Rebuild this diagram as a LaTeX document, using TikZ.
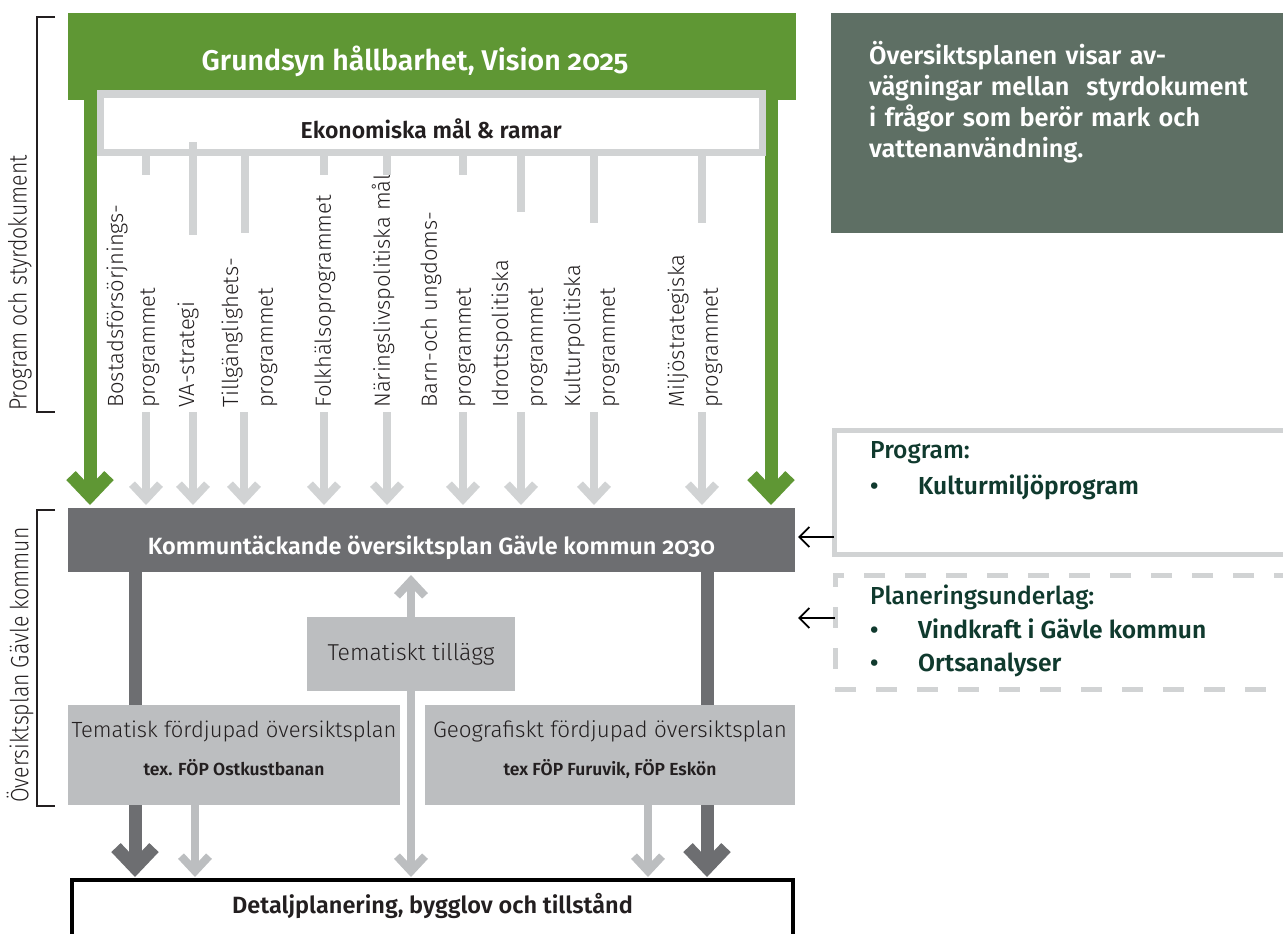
\documentclass[tikz,border=0pt]{standalone}
\usepackage{fontspec}
\setmainfont{Fira Sans}[Numbers=OldStyle]
\newfontfamily\lightfont{Fira Sans Light}[Numbers=OldStyle]
\newfontfamily\medfont{Fira Sans Medium}[Numbers=OldStyle]
\newfontfamily\semifont{Fira Sans SemiBold}[Numbers=OldStyle]
\newfontfamily\condfont{Fira Sans Light}[FakeStretch=0.85]
\usepackage{xcolor}
\usepackage{tikz}
\usetikzlibrary{positioning}
\usetikzlibrary{arrows.meta}
\pgfdeclarelayer{edgelayer}
\pgfsetlayers{edgelayer,main}

\definecolor{ogreen}{RGB}{95,151,52}
\definecolor{stubgrey}{RGB}{209,211,212}
\definecolor{darkgrey}{RGB}{109,110,113}
\definecolor{boxgrey}{RGB}{188,190,192}
\definecolor{slate}{RGB}{94,111,100}
\definecolor{deepgreen}{RGB}{16,58,46}
\definecolor{inkblack}{RGB}{35,31,32}

\tikzset{
  block/.style={inner sep=0pt, outer sep=0pt, anchor=north west},
  greenflow/.style={draw=ogreen, line width=13pt, -{Straight Barb[length=20pt,width=38pt]}, shorten >=3pt},
  darkflow/.style={draw=darkgrey, line width=13pt, -{Straight Barb[length=20pt,width=38pt]}, shorten >=3pt},
  greyflow/.style={draw=stubgrey, line width=8pt, -{Straight Barb[length=15pt,width=28pt]}, shorten >=3pt},
  paleflow/.style={draw=boxgrey, line width=8pt, -{Straight Barb[length=15pt,width=28pt]}, shorten >=3pt},
  stub/.style={draw=stubgrey, line width=8pt},
  pointer/.style={draw=black, line width=1.8pt, -{Straight Barb[length=10pt,width=20pt]}},
  bracket/.style={draw=inkblack, line width=2pt},
  progtext/.style={rotate=90, anchor=west, inner sep=0pt, text=inkblack, font=\lightfont\fontsize{22}{25}\selectfont},
  sidetext/.style={rotate=90, inner sep=0pt, text=inkblack, font=\condfont\fontsize{25}{28}\selectfont},
  listtext/.style={anchor=north west, inner sep=0pt, align=left, text=deepgreen}
}

\begin{document}
\begin{tikzpicture}[x=1pt, y=-1pt]
  \useasboundingbox (0,0) rectangle (1283,934);
  \clip (0,0) rectangle (1283,934);

  % Top: vision and economic frame
  \node[block, fill=ogreen, minimum width=728, minimum height=87] (vision) at (68,13) {};
  \node[text=white, font=\semifont\fontsize{28.5}{32}\selectfont] (visiontxt) at (415,61) {Grundsyn hållbarhet, Vision 2025};
  \node[block, draw=stubgrey, line width=7pt, fill=white, minimum width=661.5, minimum height=58,
        text height=31pt, text depth=0pt,
        text=inkblack, font=\semifont\fontsize{23}{26}\selectfont] (ekonomi) at (100.5,94) {Ekonomiska mål \& ramar};

  % Program and policy documents
  \foreach \x/\txt in {117/Bostadsförsörjnings-, 150/programmet, 188/VA-strategi, 232/Tillgänglighets-,
                       268/programmet, 325/Folkhälsoprogrammet, 383/Näringslivspolitiska mål,
                       431/Barn-och ungdoms-, 466/programmet, 502/Idrottspolitiska, 538/programmet,
                       574/Kulturpolitiska, 610/programmet, 678/Miljöstrategiska, 713/programmet}
    \node[progtext] (prog\x) at (\x,408) {\txt};

  % Comprehensive plan
  \node[block, fill=darkgrey, minimum width=727, minimum height=64, text=white,
        text height=28pt, text depth=0pt,
        font=\semifont\fontsize{23.5}{26}\selectfont] (kommun) at (68,508) {Kommuntäckande översiktsplan Gävle kommun 2030};
  \node[block, fill=boxgrey, minimum width=208, minimum height=74, text=inkblack,
        font=\lightfont\fontsize{23}{26}\selectfont] (tillagg) at (307,617) {Tematiskt tillägg};
  \node[block, fill=boxgrey, minimum width=332, minimum height=100, text=inkblack, align=center,
        font=\lightfont\fontsize{22}{24}\selectfont] (tematisk) at (68,705)
        {Tematisk fördjupad översiktsplan\\[14pt]{\semifont\fontsize{17.5}{20}\selectfont tex. FÖP Ostkustbanan}\rule[-14pt]{0pt}{1pt}};
  \node[block, fill=boxgrey, minimum width=370, minimum height=100, text=inkblack, align=center,
        font=\lightfont\fontsize{22.4}{24}\selectfont] (geografiskt) at (425,705)
        {Geografiskt fördjupad översiktsplan\\[14pt]{\semifont\fontsize{17.5}{20}\selectfont tex FÖP Furuvik, FÖP Eskön}\rule[-14pt]{0pt}{1pt}};

  % Detailed planning (runs off the bottom edge)
  \node[block, draw=black, line width=4pt, fill=white, minimum width=721, minimum height=80,
        text height=18pt, text depth=32pt, text=inkblack,
        font=\semifont\fontsize{23.5}{26}\selectfont] (detalj) at (72,880) {Detaljplanering, bygglov och tillstånd};

  % Right column
  \node[block, fill=slate, minimum width=460, minimum height=220] (note) at (831,13) {};
  \node[listtext, text=white, text width=410, font=\semifont\fontsize{25.3}{31}\selectfont,
        below right=28pt and 38pt of note.north west]
        (notetxt) {Översiktsplanen visar av-\\vägningar mellan\ \ styrdokument\\i frågor som berör mark och\\vattenanvändning.};
  \node[block, draw=stubgrey, line width=5pt, fill=white, minimum width=460, minimum height=124] (program) at (834,430) {};
  \node[listtext, font=\semifont\fontsize{24.6}{36}\selectfont, below right=11pt and 36pt of program.north west] (programtxt)
        {{\medfont Program:}\\\makebox[48pt][l]{•}Kulturmiljöprogram};
  \node[block, draw=stubgrey, line width=5pt, dash pattern=on 21pt off 20pt, minimum width=460, minimum height=114] (underlag) at (835,575) {};
  \node[listtext, font=\semifont\fontsize{24.6}{33.5}\selectfont, below right=10pt and 35pt of underlag.north west] (underlagtxt)
        {{\medfont Planeringsunderlag:}\\\makebox[48pt][l]{•}Vindkraft i Gävle kommun\\\makebox[48pt][l]{•}Ortsanalyser};

  % Brackets on the left
  \draw[bracket] (55,17) -- (37,17) -- (37,412) -- (55,412);
  \draw[bracket] (55,510) -- (37,510) -- (37,806) -- (55,806);
  \node[sidetext] (styrlabel) at (20,283) {Program och styrdokument};
  \node[sidetext] (oplabel) at (20,665) {Översiktsplan Gävle kommun};

  % Connectors
  \coordinate (ptrA) at (0,537);
  \coordinate (ptrB) at (0,618);
  \draw[pointer] (program.west |- ptrA) -- ([xshift=3pt]kommun.east |- ptrA);
  \draw[pointer] (underlag.west |- ptrB) -- ([xshift=3pt]kommun.east |- ptrB);

  \foreach \x/\y/\z in {146/152/175, 193/142/235, 245/152/233, 324/152/175, 387/152/175,
                        463/152/175, 521/152/212, 594/152/223, 702/152/223}
    \draw[stub] (\x,\y) -- (\x,\z);

  \begin{pgfonlayer}{edgelayer}
    \draw[greenflow] (90,100) -- (90,0 |- kommun.north);
    \draw[greenflow] (771,100) -- (771,0 |- kommun.north);
    \draw[darkflow] (135,0 |- kommun.south) -- (135,0 |- detalj.north);
    \draw[darkflow] (707,0 |- kommun.south) -- (707,0 |- detalj.north);
  \end{pgfonlayer}
  \foreach \x in {146,193,244,324,387,463,521,594,702}
    \draw[greyflow] (\x,412) -- (\x,0 |- kommun.north);
  \draw[paleflow] (tillagg.north) -- (kommun.south -| tillagg.north);
  \draw[paleflow] (tillagg.south) -- (detalj.north -| tillagg.south);
  \draw[paleflow] (195,0 |- tematisk.south) -- (195,0 |- detalj.north);
  \draw[paleflow] (648,0 |- geografiskt.south) -- (648,0 |- detalj.north);
\end{tikzpicture}
\end{document}
